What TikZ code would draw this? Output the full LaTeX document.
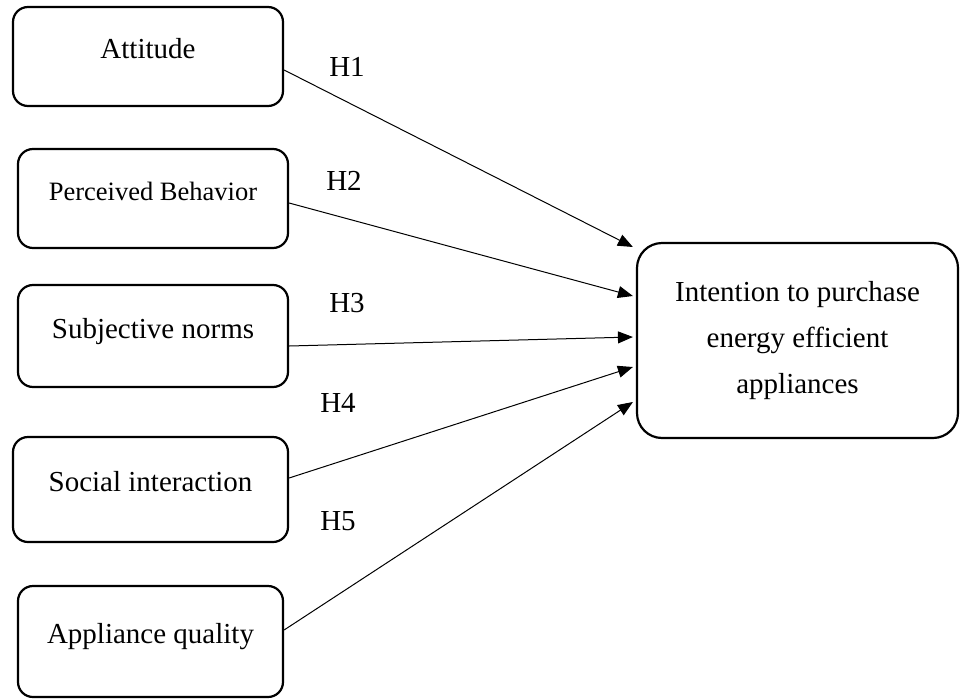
\documentclass[tikz,border=0pt]{standalone}
\usepackage{fontspec}
\setmainfont{Liberation Serif}
\usetikzlibrary{arrows.meta}
\begin{document}
\begin{tikzpicture}[x=1pt,y=-1pt,
factor/.style={draw, line width=2.2pt, rounded corners=15pt, inner sep=0pt, text height=20pt, text depth=16pt, font=\fontsize{29}{34}\selectfont},
outcome/.style={draw, line width=2.2pt, rounded corners=25pt, align=center, minimum width=321pt, minimum height=195pt, font=\fontsize{29}{46}\selectfont},
hyp/.style={inner sep=0pt, font=\fontsize{29}{34}\selectfont},
link/.style={line width=1pt, -{Triangle[length=15pt,width=12pt]}}]
\useasboundingbox (0,0) rectangle (961,699);
\node[factor, minimum width=270pt, minimum height=99pt] (att) at (148,56.5) {Attitude};
\node[factor, minimum width=270pt, minimum height=99pt, font=\fontsize{26.5}{32}\selectfont] (pb) at (153,198.5) {Perceived Behavior};
\node[factor, minimum width=270pt, minimum height=102pt] (sn) at (153,336) {Subjective norms};
\node[factor, minimum width=275pt, minimum height=105pt] (si) at (150.5,489.5) {Social interaction};
\node[factor, minimum width=265pt, minimum height=111pt] (aq) at (150.5,641.5) {Appliance quality};
\node[outcome] (pi) at (797.5,340.5) {Intention to purchase\\energy efficient\\appliances};
\foreach \n/\x/\y in {1/347/67,2/344/181,3/347/303,4/338/403,5/338/521} \node[hyp] (h\n) at (\x,\y) {H\n};
\foreach \f/\a/\b in {att/-13.5/93.5,pb/-4.5/44.5,sn/-10/3.5,si/11.5/-26.5,aq/11.5/-61.5} \draw[link] ([yshift=\a pt]\f.east) -- ([xshift=-3pt,yshift=\b pt]pi.west);
\end{tikzpicture}
\end{document}
